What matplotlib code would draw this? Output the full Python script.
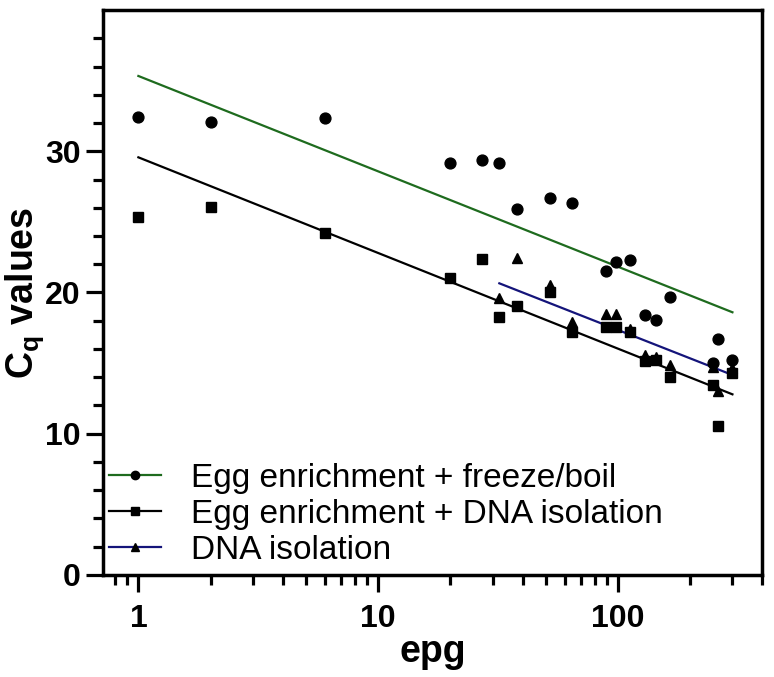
import numpy as np
import matplotlib
matplotlib.use("Agg")
import matplotlib.pyplot as plt
from matplotlib.ticker import FixedLocator, NullFormatter, FixedFormatter
from matplotlib.lines import Line2D

plt.rcParams['font.family'] = ['Liberation Sans', 'DejaVu Sans']
plt.rcParams['mathtext.fontset'] = 'custom'
plt.rcParams['mathtext.rm'] = 'Liberation Sans:bold'
plt.rcParams['mathtext.bf'] = 'Liberation Sans:bold'
plt.rcParams['mathtext.it'] = 'Liberation Sans:bold'

# ---- data ----
epg_all = [1, 2, 6, 20, 27, 32, 38, 52, 64, 89, 98, 112, 130, 144, 164, 249, 260, 300]
cq_freeze_boil = [32.45, 32.09, 32.38, 29.15, 29.38, 29.15, 25.91, 26.67, 26.36,
                  21.54, 22.14, 22.30, 18.41, 18.05, 19.70, 15.03, 16.69, 15.22]
cq_egg_dna = [25.32, 26.07, 24.23, 21.00, 22.35, 18.24, 19.07, 20.06, 17.22,
              17.58, 17.58, 17.22, 15.17, 15.22, 14.04, 13.45, 10.57, 14.32]
epg_dna = [32, 38, 52, 64, 89, 98, 112, 130, 144, 164, 249, 260, 300]
cq_dna = [19.59, 22.42, 20.53, 17.93, 18.48, 18.48, 17.42, 15.58, 15.45, 14.87,
          14.70, 13.05, 14.63]

# regression lines (end points)
fit_freeze_x = [1, 300]
fit_freeze_y = [35.33, 18.60]
fit_egg_dna_x = [1, 300]
fit_egg_dna_y = [29.57, 12.79]
fit_dna_x = [32, 300]
fit_dna_y = [20.65, 14.16]

labels = ["Egg enrichment + freeze/boil", "Egg enrichment + DNA isolation", "DNA isolation"]
colors = ["#1e6b1e", "#000000", "#14147a"]

fig = plt.figure(figsize=(7.74, 6.77), dpi=100)
ax = fig.add_axes([0.1327, 0.1507, 0.8523, 0.8345])

ax.set_xscale('log')
ax.set_xlim(0.71, 400)
ax.set_ylim(0, 40)

lw = 1.6
ax.plot(fit_freeze_x, fit_freeze_y, color=colors[0], lw=lw, zorder=2)
ax.plot(fit_egg_dna_x, fit_egg_dna_y, color=colors[1], lw=lw, zorder=2)
ax.plot(fit_dna_x, fit_dna_y, color=colors[2], lw=lw, zorder=2)

ax.plot(epg_all, cq_freeze_boil, 'o', color='black', ms=7.8, zorder=3, clip_on=False)
ax.plot(epg_all, cq_egg_dna, 's', color='black', ms=7.5, zorder=3, clip_on=False)
ax.plot(epg_dna, cq_dna, '^', color='black', ms=7.8, zorder=3, clip_on=False)

# spines and ticks
for s in ax.spines.values():
    s.set_linewidth(2.5)
ax.tick_params(axis='both', which='major', length=12, width=2.3, direction='out')
ax.tick_params(axis='both', which='minor', length=7, width=2.3, direction='out')
ax.tick_params(axis='x', which='major', pad=9)
ax.tick_params(axis='y', which='major', pad=4)

ax.xaxis.set_major_locator(FixedLocator([1, 10, 100]))
ax.xaxis.set_major_formatter(FixedFormatter(['1', '10', '100']))
xminor = [0.8, 0.9] + [m * d for d in (1, 10) for m in range(2, 10)] + [200, 300, 400]
ax.xaxis.set_minor_locator(FixedLocator(xminor))
ax.xaxis.set_minor_formatter(NullFormatter())

ax.yaxis.set_major_locator(FixedLocator([0, 10, 20, 30]))
ax.yaxis.set_minor_locator(FixedLocator([v for v in range(2, 40, 2) if v % 10 != 0]))

for t in ax.get_xticklabels() + ax.get_yticklabels():
    t.set_fontsize(23)
    t.set_fontweight('bold')

ax.set_xlabel('epg', fontsize=27, fontweight='bold', labelpad=0)
ax.set_ylabel(r'$\mathbf{C_q}$ values', fontsize=27, fontweight='bold', labelpad=-1)

handles = [Line2D([], [], color=colors[0], lw=lw, marker='o', mfc='black', mec='black', ms=6),
           Line2D([], [], color=colors[1], lw=lw, marker='s', mfc='black', mec='black', ms=6),
           Line2D([], [], color=colors[2], lw=lw, marker='^', mfc='black', mec='black', ms=6)]
ax.legend(handles, labels, loc='lower left', bbox_to_anchor=(0.0, 0.004), frameon=False,
          fontsize=24, handlelength=1.55, handletextpad=0.9, labelspacing=0.15,
          borderaxespad=0.1, borderpad=0.1)

fig.savefig('out.png', dpi=100)
